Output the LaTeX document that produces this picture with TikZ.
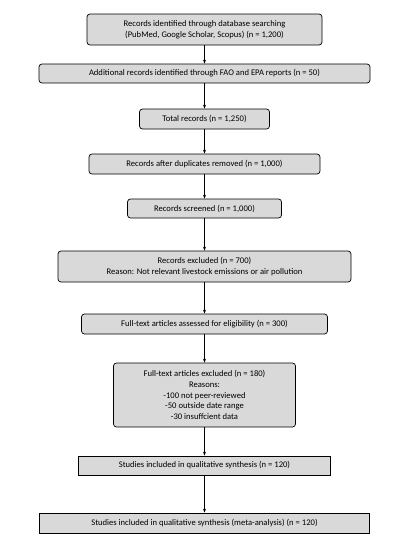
\documentclass[tikz,border=0pt]{standalone}
\usepackage{fontspec}
\setmainfont{Carlito}
\usetikzlibrary{arrows.meta}
\begin{document}
\begin{tikzpicture}[x=1pt,y=-1pt,
  box/.style={draw=black, line width=0.7pt, fill=boxgray, rounded corners=3pt,
    inner sep=0pt, align=center, font=\fontsize{8.6}{10.8}\selectfont},
  sqbox/.style={box, sharp corners},
  arr/.style={-{Stealth[length=4pt,width=3pt]}, line width=0.6pt}]
\definecolor{boxgray}{HTML}{D9D9D9}
\useasboundingbox (0,0) rectangle (408,538);
\node[box, minimum width=235pt, minimum height=31pt] (b1) at (204.5,29.5)
  {Records identified through database searching\\(PubMed, Google Scholar, Scopus) (n = 1,200)};
\node[box, minimum width=331pt, minimum height=19pt] (b2) at (204.5,73.5)
  {Additional records identified through FAO and EPA reports (n = 50)};
\node[box, minimum width=130pt, minimum height=20pt] (b3) at (204.5,119)
  {Total records (n = 1,250)};
\node[box, minimum width=231pt, minimum height=20pt] (b4) at (204.5,164)
  {Records after duplicates removed (n = 1,000)};
\node[box, minimum width=154pt, minimum height=19pt] (b5) at (204.5,208.5)
  {Records screened (n = 1,000)};
\node[box, minimum width=293pt, minimum height=31pt] (b6) at (204.5,266.5)
  {Records excluded (n = 700)\\Reason: Not relevant livestock emissions or air pollution};
\node[box, minimum width=246pt, minimum height=20pt] (b7) at (204.5,324)
  {Full-text articles assessed for eligibility (n = 300)};
\node[box, minimum width=182pt, minimum height=64pt] (b8) at (204.5,395)
  {Full-text articles excluded (n = 180)\\Reasons:\\-100 not peer-reviewed\\-50 outside date range\\-30 insuffcient data};
\node[sqbox, minimum width=252pt, minimum height=19pt] (b9) at (204.5,465.5)
  {Studies included in qualitative synthesis (n = 120)};
\node[sqbox, minimum width=330pt, minimum height=20pt] (b10) at (204.5,523)
  {Studies included in qualitative synthesis (meta-analysis) (n = 120)};
\foreach \a/\b in {b1/b2,b2/b3,b3/b4,b4/b5,b5/b6,b6/b7,b7/b8,b8/b9,b9/b10}
  \draw[arr] (\a.south) -- (\b.north);
\end{tikzpicture}
\end{document}
